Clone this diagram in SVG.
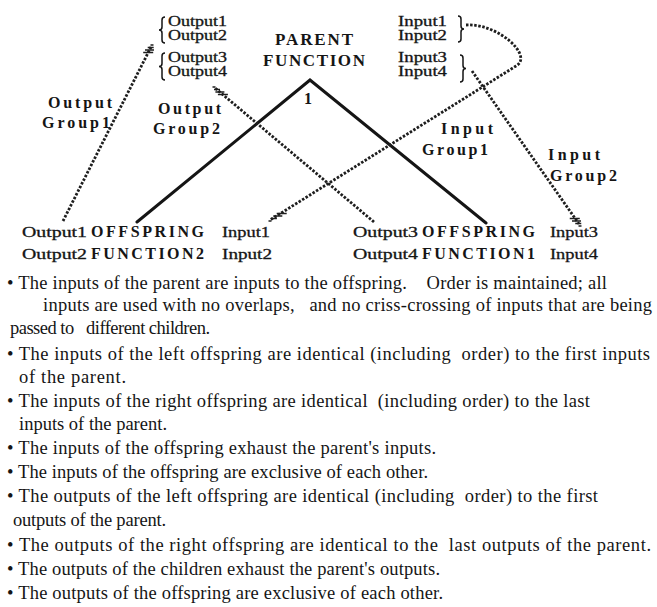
<svg xmlns="http://www.w3.org/2000/svg" width="657" height="607" viewBox="0 0 657 607">
<style>
text{font-family:"Liberation Serif","Times New Roman",serif;fill:#151515}
.io{font-size:14px;stroke:#151515;stroke-width:0.3}
.big{font-size:17px;font-weight:bold}
.mid{font-size:16px;font-weight:bold}
.off{font-size:15px;stroke:#151515;stroke-width:0.3}
.body{font-size:18.5px;white-space:pre}
.solid{stroke:#151515;stroke-width:3;fill:none;stroke-linecap:round}
.dash{stroke:#1e1e1e;stroke-width:2.8;fill:none;stroke-dasharray:2.5 1.6}
.hatch{stroke:#1e1e1e;stroke-width:1.4;fill:none}
.brace{stroke:#151515;stroke-width:1.5;fill:none}
</style>
<rect width="657" height="607" fill="#fff"/>

<g id="connectors">
  <path class="solid" d="M137,222 L310,80 L486,223"/>
  <path class="dash" d="M63,221 L151,47"/>
  <path class="hatch" d="M150.5,45h3 M147.7,47.5h6 M145,50h9 M143.2,52.5h10"/>
  <path class="dash" d="M374,222 L215,88"/>
  <path class="hatch" d="M212.5,87h3 M214,89.5h6 M215.4,92h9 M217.9,94.5h10"/>
  <path class="dash" d="M466,25 C498,23 534,56 516,66 L270,220"/>
  <path class="hatch" d="M268.5,221h3 M270.9,218.5h6 M273.3,216h9 M276.7,213.5h10"/>
  <path class="dash" d="M472,71 L579,224"/>
  <path class="hatch" d="M578.5,226h3 M575.25,223.5h6 M572,221h9 M569.75,218.5h10"/>
</g>

<g id="parent">
  <text class="big" x="275" y="45" textLength="78" lengthAdjust="spacing">PARENT</text>
  <text class="big" x="263" y="66" textLength="102" lengthAdjust="spacing">FUNCTION</text>
  <text class="mid" x="304" y="104">1</text>
  <path class="brace" d="M165,17 q-3,0 -3,3 v7 q0,3 -3,3 q3,0 3,3 v7 q0,3 3,3"/>
  <path class="brace" d="M165,53 q-3,0 -3,3 v7.5 q0,3 -3,3 q3,0 3,3 v7.5 q0,3 3,3"/>
  <text class="io" x="168" y="26" textLength="59" lengthAdjust="spacingAndGlyphs">Output1</text>
  <text class="io" x="168" y="40" textLength="59" lengthAdjust="spacingAndGlyphs">Output2</text>
  <text class="io" x="168" y="62" textLength="59" lengthAdjust="spacingAndGlyphs">Output3</text>
  <text class="io" x="168" y="76" textLength="59" lengthAdjust="spacingAndGlyphs">Output4</text>
  <text class="io" x="398" y="26" textLength="49" lengthAdjust="spacingAndGlyphs">Input1</text>
  <text class="io" x="398" y="40" textLength="49" lengthAdjust="spacingAndGlyphs">Input2</text>
  <text class="io" x="398" y="62" textLength="49" lengthAdjust="spacingAndGlyphs">Input3</text>
  <text class="io" x="398" y="76" textLength="49" lengthAdjust="spacingAndGlyphs">Input4</text>
  <path class="brace" d="M458,16 q3,0 3,3 v7 q0,3 3,3 q-3,0 -3,3 v7 q0,3 -3,3"/>
  <path class="brace" d="M460,55 q3,0 3,3 v7.5 q0,3 3,3 q-3,0 -3,3 v7.5 q0,3 -3,3"/>
</g>

<g id="group-labels">
  <text class="mid" x="48" y="108" textLength="64" lengthAdjust="spacing">Output</text>
  <text class="mid" x="42" y="128" textLength="68" lengthAdjust="spacing">Group1</text>
  <text class="mid" x="158" y="114" textLength="63" lengthAdjust="spacing">Output</text>
  <text class="mid" x="153" y="134" textLength="67" lengthAdjust="spacing">Group2</text>
  <text class="mid" x="441" y="134" textLength="52" lengthAdjust="spacing">Input</text>
  <text class="mid" x="422" y="155" textLength="66" lengthAdjust="spacing">Group1</text>
  <text class="mid" x="548" y="160" textLength="52" lengthAdjust="spacing">Input</text>
  <text class="mid" x="550" y="181" textLength="67" lengthAdjust="spacing">Group2</text>
</g>

<g id="offspring2">
  <text class="off" x="22" y="237" textLength="65" lengthAdjust="spacingAndGlyphs">Output1</text>
  <text class="off" x="22" y="259" textLength="65" lengthAdjust="spacingAndGlyphs">Output2</text>
  <text class="mid" x="91" y="237" textLength="113" lengthAdjust="spacing">OFFSPRING</text>
  <text class="mid" x="91" y="259" textLength="113" lengthAdjust="spacing">FUNCTION2</text>
  <text class="off" x="222" y="237" textLength="48" lengthAdjust="spacingAndGlyphs">Input1</text>
  <text class="off" x="222" y="259" textLength="50" lengthAdjust="spacingAndGlyphs">Input2</text>
</g>

<g id="offspring1">
  <text class="off" x="353" y="237" textLength="65" lengthAdjust="spacingAndGlyphs">Output3</text>
  <text class="off" x="353" y="259" textLength="65" lengthAdjust="spacingAndGlyphs">Output4</text>
  <text class="mid" x="422" y="237" textLength="113" lengthAdjust="spacing">OFFSPRING</text>
  <text class="mid" x="422" y="259" textLength="113" lengthAdjust="spacing">FUNCTION1</text>
  <text class="off" x="550" y="237" textLength="48" lengthAdjust="spacingAndGlyphs">Input3</text>
  <text class="off" x="550" y="259" textLength="48" lengthAdjust="spacingAndGlyphs">Input4</text>
</g>

<g id="rules">
  <text class="body" x="7" y="289" textLength="600" lengthAdjust="spacing">• The inputs of the parent are inputs to the offspring.    Order is maintained; all</text>
  <text class="body" x="43" y="311" textLength="609" lengthAdjust="spacing">inputs are used with no overlaps,   and no criss-crossing of inputs that are being</text>
  <text class="body" x="10" y="334" textLength="200" lengthAdjust="spacing">passed to   different children.</text>
  <text class="body" x="7" y="360" textLength="643" lengthAdjust="spacing">• The inputs of the left offspring are identical (including  order) to the first inputs</text>
  <text class="body" x="19" y="383" textLength="107" lengthAdjust="spacing">of the parent.</text>
  <text class="body" x="7" y="407" textLength="583" lengthAdjust="spacing">• The inputs of the right offspring are identical  (including order) to the last</text>
  <text class="body" x="19" y="430" textLength="148" lengthAdjust="spacing">inputs of the parent.</text>
  <text class="body" x="7" y="454" textLength="429" lengthAdjust="spacing">• The inputs of the offspring exhaust the parent's inputs.</text>
  <text class="body" x="7" y="478" textLength="421" lengthAdjust="spacing">• The inputs of the offspring are exclusive of each other.</text>
  <text class="body" x="7" y="502" textLength="591" lengthAdjust="spacing">• The outputs of the left offspring are identical (including  order) to the first</text>
  <text class="body" x="13" y="526" textLength="153" lengthAdjust="spacing">outputs of the parent.</text>
  <text class="body" x="7" y="551" textLength="644" lengthAdjust="spacing">• The outputs of the right offspring are identical to the  last outputs of the parent.</text>
  <text class="body" x="7" y="575" textLength="433" lengthAdjust="spacing">• The outputs of the children exhaust the parent's outputs.</text>
  <text class="body" x="7" y="599" textLength="436" lengthAdjust="spacing">• The outputs of the offspring are exclusive of each other.</text>
</g>
</svg>
